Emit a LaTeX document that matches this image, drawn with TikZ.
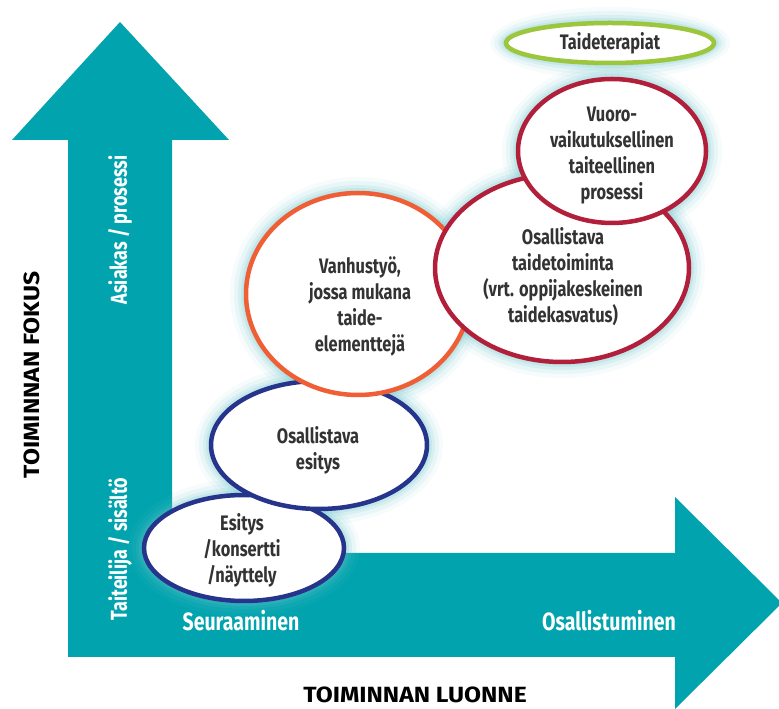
\documentclass[tikz,border=0pt]{standalone}
\usepackage{fontspec}
\setmainfont{Fira Sans}[FakeStretch=0.78]
\newfontfamily\capsfont{Fira Sans}[FakeStretch=1.12]
\usetikzlibrary{shapes.geometric}
\pgfdeclarelayer{bg}
\pgfdeclarelayer{glow}
\pgfsetlayers{bg,glow,main}
\definecolor{arrowteal}{HTML}{00A3AE}
\definecolor{eblue}{HTML}{27348B}
\definecolor{eorange}{HTML}{F05E35}
\definecolor{ered}{HTML}{B11F3B}
\definecolor{egreen}{HTML}{9CC63B}
\definecolor{glowc}{HTML}{6CC6CF}
\definecolor{txt}{HTML}{333333}
\tikzset{
  bubble/.style={ellipse, draw, line width=4.5pt, fill=white, inner sep=0pt},
  btext/.style={align=center, text=txt, inner sep=0pt,
    font=\fontsize{21}{26}\selectfont\bfseries},
  axistext/.style={text=white, font=\fontsize{25}{28}\selectfont\bfseries},
  axistextv/.style={text=white, rotate=90, font=\fontsize{23}{28}\selectfont\bfseries},
  titletext/.style={text=black, font=\capsfont\fontsize{22}{24}\selectfont\bfseries}
}
\newcommand{\glowell}[3]{%
  \foreach \g/\o in {16/0.06,12/0.09,8/0.13,5/0.18,2.5/0.26}{%
    \fill[glowc, opacity=\o] (#1) ellipse [x radius=#2+\g, y radius=#3+\g];}}
\begin{document}
\begin{tikzpicture}[x=1pt,y=1pt]
\useasboundingbox (0,0) rectangle (779,709);
% arrows
\begin{pgfonlayer}{bg}
\fill[white] (0,0) rectangle (779,709);
\fill[arrowteal] (68,52) -- (68,569) -- (12,569) -- (120,687) -- (229,569) -- (172,569)
  -- (172,156) -- (675,156) -- (675,212) -- (782,106) -- (675,0) -- (675,52) -- cycle;
\end{pgfonlayer}
% bubbles
\node[bubble, draw=eblue, minimum width=200pt, minimum height=106pt] (esitys) at (244,161) {};
\node[btext] (esitysT) at (242,159) {Esitys\\/konsertti\\/näyttely};
\node[bubble, draw=eblue, minimum width=216pt, minimum height=128pt] (osesitys) at (319,264) {};
\node[btext] (osesitysT) at (318,259) {Osallistava\\esitys};
\node[bubble, draw=eorange, minimum width=224pt, minimum height=202pt] (vanhus) at (358,415) {};
\node[btext] (vanhusT) at (360,403) {Vanhustyö,\\jossa mukana\\taide-\\elementtejä};
\node[bubble, draw=ered, minimum width=254pt, minimum height=188pt] (ostaide) at (562,441) {};
\node[btext] (ostaideT) at (563,432) {Osallistava\\taidetoiminta\\(vrt. oppijakeskeinen\\taidekasvatus)};
\node[bubble, draw=ered, minimum width=188pt, minimum height=144pt] (vuoro) at (612,558) {};
\node[btext] (vuoroT) at (612,553) {Vuoro-\\vaikutuksellinen\\taiteellinen\\prosessi};
\node[bubble, draw=egreen, minimum width=208pt, minimum height=40pt] (terapia) at (610,666) {};
\node[btext] (terapiaT) at (610,666) {Taideterapiat};
% glows
\begin{pgfonlayer}{glow}
\glowell{esitys.center}{100}{53}
\glowell{osesitys.center}{108}{64}
\glowell{vanhus.center}{112}{101}
\glowell{ostaide.center}{127}{94}
\glowell{vuoro.center}{94}{72}
\glowell{terapia.center}{104}{20}
\end{pgfonlayer}
% axis texts
\node[axistextv] (asiakas) at (120,479) {Asiakas / prosessi};
\node[axistextv] (taiteilija) at (120,160) {Taiteilija / sisältö};
\node[axistext] (seuraa) at (241,88) {Seuraaminen};
\node[axistext] (osall) at (609,88) {Osallistuminen};
\node[titletext, rotate=90] (fokus) at (32,334) {TOIMINNAN FOKUS};
\node[titletext] (luonne) at (415,14) {TOIMINNAN LUONNE};
\end{tikzpicture}
\end{document}
